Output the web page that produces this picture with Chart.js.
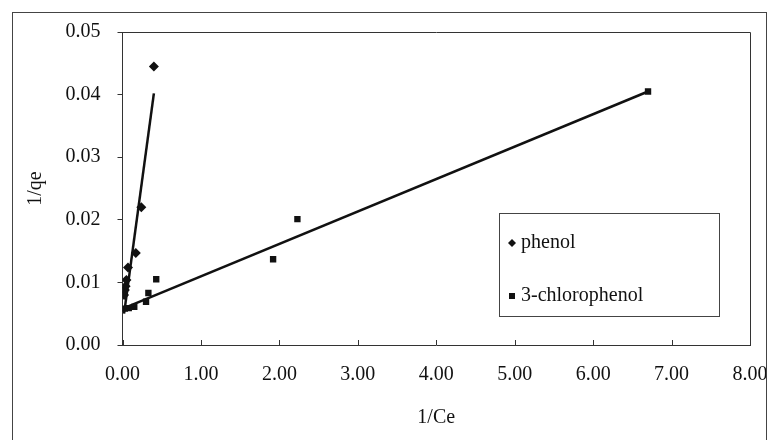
<!DOCTYPE html>
<html>
<head>
<meta charset="utf-8">
<script src="https://cdn.jsdelivr.net/npm/chart.js@4"></script>
<style>
  body { margin: 0; background: #fff; }
  #wrap { position: relative; width: 770px; height: 440px; overflow: hidden; }
  #frame {
    position: absolute; left: 12px; top: 12px; width: 755px; height: 440px;
    border: 1px solid #444; box-sizing: border-box; z-index: 2;
  }
  #edge { position: absolute; left: 767px; top: 0; width: 3px; height: 440px; background: #fff; z-index: 2; }
  canvas { position: absolute; left: 0; top: 0; }
</style>
</head>
<body>
<div id="wrap">
  <canvas id="chart" width="770" height="440"></canvas>
  <div id="frame"></div>
  <div id="edge"></div>
</div>
<script>
// Data
const phenolX = [0.02, 0.03, 0.04, 0.05, 0.07, 0.17, 0.24, 0.40];
const phenolY = [0.0080, 0.0088, 0.0094, 0.0104, 0.0124, 0.0147, 0.0220, 0.0445];
const chloroX = [0.03, 0.08, 0.15, 0.30, 0.33, 0.43, 1.92, 2.23, 6.70];
const chloroY = [0.0058, 0.0059, 0.0061, 0.0069, 0.0083, 0.0105, 0.0137, 0.0201, 0.0405];
// Trendline end points
const phenolFitX = [0.02, 0.40];
const phenolFitY = [0.0050, 0.0402];
const chloroFitX = [0.02, 6.70];
const chloroFitY = [0.0059, 0.0405];
const seriesNames = ["phenol", "3-chlorophenol"];
const xTicks = [0, 1, 2, 3, 4, 5, 6, 7, 8];
const yTicks = [0, 0.01, 0.02, 0.03, 0.04, 0.05];

const toPoints = (xs, ys) => xs.map((x, i) => ({ x: x, y: ys[i] }));
const INK = "#111";
const FONT = "'Liberation Serif', 'DejaVu Serif', serif";

// Plot area border + inward x ticks + legend box
const decor = {
  id: "decor",
  afterDraw(chart) {
    const { ctx, chartArea: a } = chart;
    ctx.save();
    ctx.strokeStyle = "#333";
    ctx.lineWidth = 1;
    ctx.beginPath();
    ctx.moveTo(a.left, a.top + 0.5);
    ctx.lineTo(a.right + 0.5, a.top + 0.5);
    ctx.lineTo(a.right + 0.5, a.bottom);
    ctx.stroke();

    // x ticks pointing up into the plot
    const xs = chart.scales.x;
    ctx.beginPath();
    xs.ticks.forEach((t, i) => {
      const px = Math.round(xs.getPixelForTick(i)) + 0.5;
      ctx.moveTo(px, a.bottom);
      ctx.lineTo(px, a.bottom - 5);
    });
    ctx.stroke();

    // legend
    const bx = 499, by = 213, bw = 220, bh = 103;
    ctx.strokeStyle = "#444";
    ctx.strokeRect(bx + 0.5, by + 0.5, bw, bh);
    ctx.font = "20px " + FONT;
    ctx.textBaseline = "middle";
    ctx.fillStyle = INK;
    const rows = [243, 296];
    chart.data.datasets.filter((d) => !d.isFit).forEach((d, i) => {
      const cy = rows[i];
      ctx.beginPath();
      if (d.pointStyle === "rectRot") {
        ctx.moveTo(512, cy - 4);
        ctx.lineTo(516, cy);
        ctx.lineTo(512, cy + 4);
        ctx.lineTo(508, cy);
        ctx.closePath();
        ctx.fill();
      } else {
        ctx.fillRect(509, cy - 3, 6, 6);
      }
      ctx.fillText(d.label, 521, cy);
    });
    ctx.restore();
  },
};

new Chart(document.getElementById("chart"), {
  type: "scatter",
  data: {
    datasets: [
      {
        label: seriesNames[0],
        data: toPoints(phenolX, phenolY),
        pointStyle: "rectRot",
        pointRadius: 5,
        backgroundColor: INK,
        borderColor: INK,
        borderWidth: 0,
      },
      {
        label: seriesNames[1],
        data: toPoints(chloroX, chloroY),
        pointStyle: "rect",
        pointRadius: 4.5,
        backgroundColor: INK,
        borderColor: INK,
        borderWidth: 0,
      },
      {
        label: "phenol fit",
        isFit: true,
        data: toPoints(phenolFitX, phenolFitY),
        showLine: true,
        pointRadius: 0,
        borderColor: INK,
        borderWidth: 2.5,
      },
      {
        label: "3-chlorophenol fit",
        isFit: true,
        data: toPoints(chloroFitX, chloroFitY),
        showLine: true,
        pointRadius: 0,
        borderColor: INK,
        borderWidth: 2.5,
      },
    ],
  },
  options: {
    responsive: false,
    animation: false,
    layout: { padding: { left: 16, right: 20, top: 32, bottom: 0 } },
    plugins: { legend: { display: false }, tooltip: { enabled: false } },
    scales: {
      x: {
        type: "linear",
        min: xTicks[0],
        max: xTicks[xTicks.length - 1],
        afterBuildTicks: (s) => { s.ticks = xTicks.map((v) => ({ value: v })); },
        afterFit: (s) => { s.height = 95; s.paddingLeft = 0; s.paddingRight = 0; },
        grid: { drawOnChartArea: false, drawTicks: false },
        border: { color: "#333", width: 1 },
        ticks: {
          padding: 18,
          color: INK,
          font: { family: FONT, size: 20 },
          callback: (v) => Number(v).toFixed(2),
        },
        title: {
          display: true,
          text: "1/Ce",
          color: INK,
          font: { family: FONT, size: 20 },
          padding: { top: 0, bottom: 10 },
        },
      },
      y: {
        type: "linear",
        min: yTicks[0],
        max: yTicks[yTicks.length - 1],
        afterBuildTicks: (s) => { s.ticks = yTicks.map((v) => ({ value: v })); },
        afterFit: (s) => { s.width = 106.5; },
        grid: { drawOnChartArea: false, tickLength: 5, color: "#333" },
        border: { color: "#333", width: 1 },
        ticks: {
          padding: 17,
          color: INK,
          font: { family: FONT, size: 20 },
          callback: (v) => Number(v).toFixed(2),
        },
        title: {
          display: true,
          text: "1/qe",
          color: INK,
          font: { family: FONT, size: 20 },
          padding: { top: 8, bottom: 0 },
        },
      },
    },
  },
  plugins: [decor],
});
</script>
</body>
</html>
